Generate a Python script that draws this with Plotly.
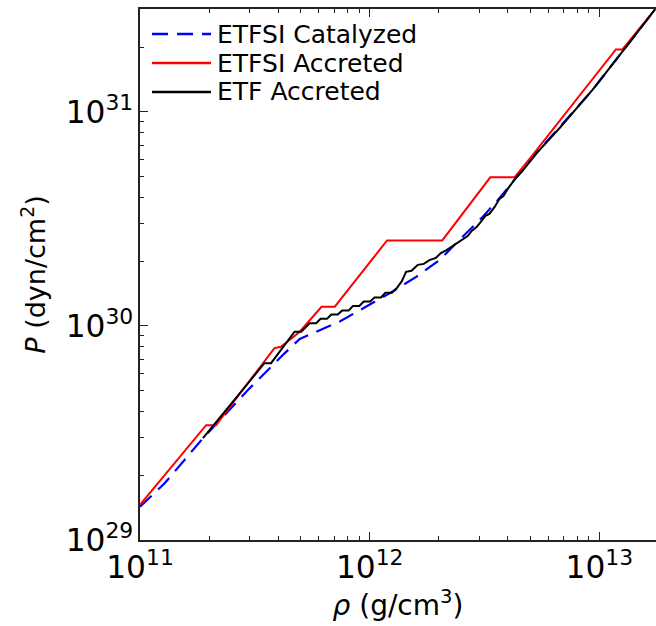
import plotly.graph_objects as go

# ETFSI Catalyzed (blue dashed)
rho_cat = [1.0e11, 1.28e11, 1.88e11, 2.95e11, 4.26e11, 4.96e11, 7.41e11, 9.68e11,
           1.22e12, 1.60e12, 2.01e12, 2.63e12, 3.11e12, 3.67e12, 5.31e12, 9.36e12, 1.75e13]
P_cat = [1.43e29, 1.84e29, 2.99e29, 5.02e29, 7.45e29, 8.7e29, 1.05e30, 1.23e30,
         1.42e30, 1.70e30, 2.03e30, 2.71e30, 3.24e30, 3.95e30, 6.41e30, 1.27e31, 3.02e31]

# ETFSI Accreted (red)
rho_acc = [1.0e11, 1.94e11, 2.14e11, 3.85e11, 4.11e11, 4.96e11, 6.17e11, 7.05e11,
           1.19e12, 2.07e12, 3.35e12, 4.27e12, 5.13e12, 1.18e13, 1.26e13, 1.75e13]
P_acc = [1.46e29, 3.44e29, 3.44e29, 7.88e29, 8.0e29, 9.4e29, 1.23e30, 1.23e30,
         2.51e30, 2.51e30, 4.95e30, 4.95e30, 6.3e30, 1.96e31, 1.96e31, 3.02e31]

# ETF Accreted (black)
rho_etf = [1.88e11, 3.48e11, 3.72e11, 4.71e11, 5.03e11, 5.48e11,
           5.85e11, 6.11e11, 6.52e11, 6.81e11, 7.26e11, 7.59e11, 8.09e11, 8.45e11,
           9.02e11, 9.42e11, 1.005e12, 1.05e12, 1.12e12, 1.17e12, 1.25e12, 1.31e12,
           1.38e12, 1.44e12, 1.52e12, 1.62e12, 1.72e12, 1.82e12, 1.94e12, 2.04e12,
           2.16e12, 2.27e12, 2.41e12, 2.54e12, 2.67e12, 2.78e12, 2.92e12, 3.04e12,
           3.19e12, 3.32e12, 3.50e12, 3.67e12, 3.82e12, 4.02e12, 4.36e12, 4.58e12,
           4.82e12, 5.32e12, 6.70e12, 9.35e12, 1.31e13, 1.75e13]
P_etf = [2.99e29, 6.70e29, 6.70e29, 9.40e29, 9.40e29, 1.03e30,
         1.03e30, 1.08e30, 1.08e30, 1.13e30, 1.13e30, 1.18e30, 1.18e30, 1.24e30,
         1.24e30, 1.30e30, 1.30e30, 1.36e30, 1.36e30, 1.43e30, 1.43e30, 1.50e30,
         1.62e30, 1.79e30, 1.81e30, 1.93e30, 1.95e30, 2.03e30, 2.08e30, 2.19e30,
         2.26e30, 2.34e30, 2.44e30, 2.55e30, 2.63e30, 2.78e30, 2.90e30, 3.06e30,
         3.27e30, 3.34e30, 3.60e30, 3.92e30, 4.05e30, 4.42e30, 4.97e30, 5.24e30,
         5.59e30, 6.41e30, 8.39e30, 1.27e31, 2.02e31, 3.02e31]

series_names = ["ETFSI Catalyzed", "ETFSI Accreted", "ETF Accreted"]
series_colors = ["#0000ff", "#ff0000", "#000000"]
series_dash = ["16px,9px", "solid", "solid"]

FONT = "DejaVu Sans"
AX = "#222222"

fig = go.Figure()
data = [(rho_cat, P_cat), (rho_acc, P_acc), (rho_etf, P_etf)]
for (xs, ys), name, col, dash in zip(data, series_names, series_colors, series_dash):
    fig.add_trace(go.Scatter(x=xs, y=ys, mode="lines", name=name, showlegend=False,
                             line=dict(color=col, width=2.2 if dash != "solid" else 2, dash=dash)))

# legend drawn in paper coordinates (frameless, tightly spaced like the reference)
legend_rows = [0.9529, 0.8983, 0.8437]
for yy, name, col, dash in zip(legend_rows, series_names, series_colors, series_dash):
    fig.add_shape(type="line", xref="paper", yref="paper", x0=0.0233, x1=0.1376, y0=yy, y1=yy,
                  line=dict(color=col, width=2.5, dash=dash))
    fig.add_annotation(xref="paper", yref="paper", x=0.1473, y=yy, xanchor="left", yanchor="middle",
                       text=name, showarrow=False, borderpad=0,
                       font=dict(size=25, family=FONT, color="black"))

fig.update_layout(
    width=656, height=626,
    margin=dict(l=140, r=0, t=9, b=86),
    paper_bgcolor="white", plot_bgcolor="white",
    font=dict(family=FONT, size=25, color="black"),
    showlegend=False,
)
fig.update_xaxes(
    type="log", range=[11, 13.2465], dtick=1, exponentformat="power",
    showgrid=False, zeroline=False,
    showline=True, linecolor=AX, linewidth=1.5, mirror="allticks",
    ticks="inside", ticklen=8, tickwidth=1.3, tickcolor=AX,
    minor=dict(ticks="inside", ticklen=4, tickwidth=1, tickcolor=AX, dtick="D1", showgrid=False),
    tickfont=dict(size=25, family=FONT),
    title=dict(text="<i>ρ</i> (g/cm<sup>3</sup>)", font=dict(size=28, family=FONT), standoff=6),
)
fig.update_yaxes(
    type="log", range=[29, 31.481], dtick=1, exponentformat="power",
    showgrid=False, zeroline=False,
    showline=True, linecolor=AX, linewidth=1.5, mirror=False,
    ticks="inside", ticklen=8, tickwidth=1.3, tickcolor=AX,
    minor=dict(ticks="inside", ticklen=4, tickwidth=1, tickcolor=AX, dtick="D1", showgrid=False),
    tickfont=dict(size=25, family=FONT),
    title=dict(text="<i>P</i> (dyn/cm<sup>2</sup>)", font=dict(size=27, family=FONT), standoff=12),
)

fig.write_html("out.html")
